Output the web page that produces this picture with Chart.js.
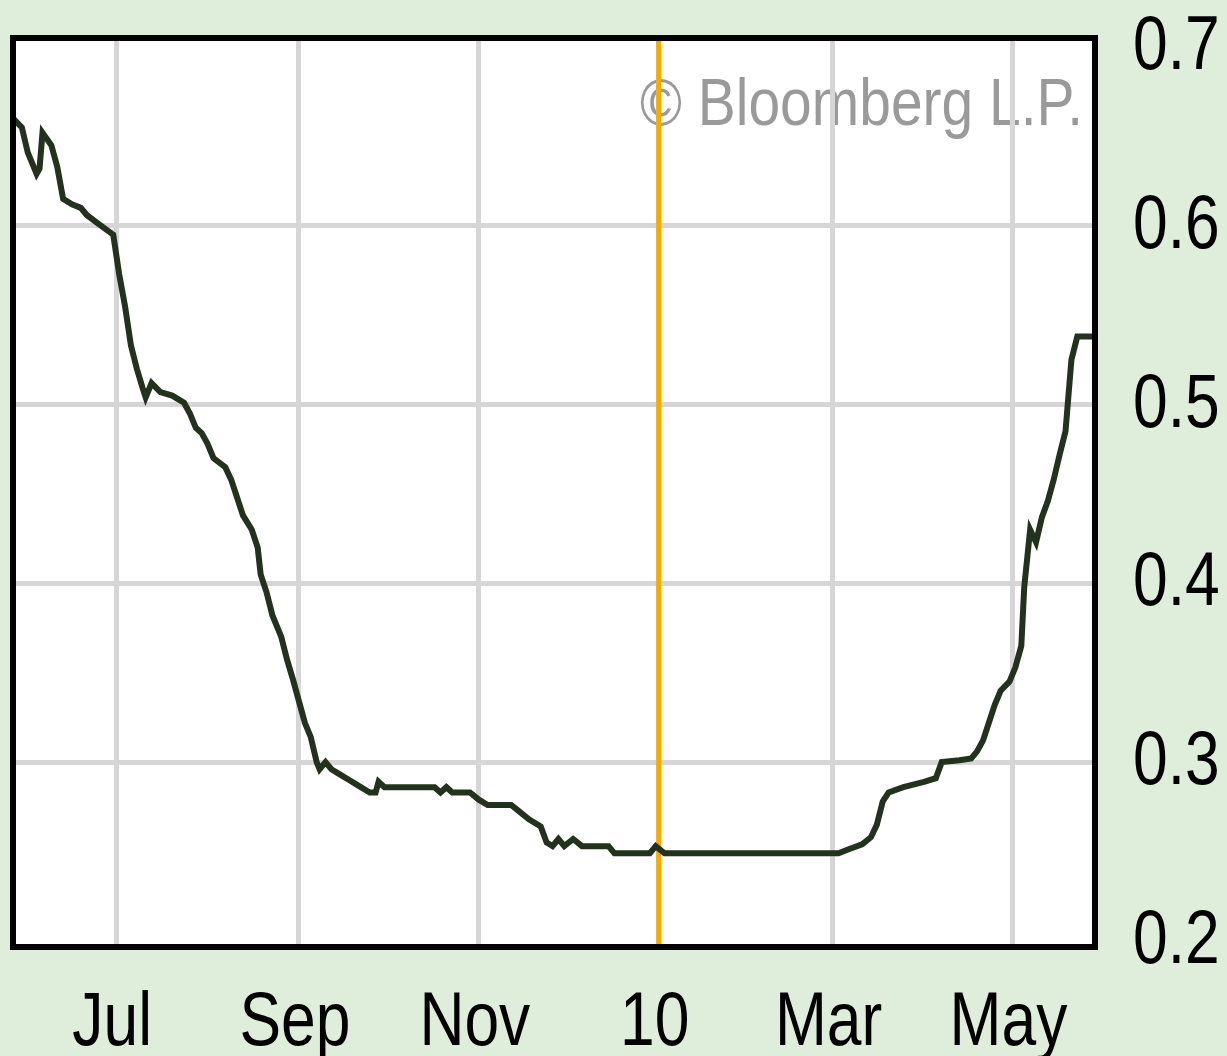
<!DOCTYPE html>
<html>
<head>
<meta charset="utf-8">
<script src="https://cdn.jsdelivr.net/npm/chart.js@4/dist/chart.umd.min.js"></script>
<style>
  html, body { margin: 0; padding: 0; background: #dfeddb; }
  #chart { display: block; }
</style>
</head>
<body>
<canvas id="chart" width="1227" height="1056"></canvas>
<script>
// Данные
const startDate = '2009-05-27';
const endDate = '2010-05-29';

const dates = [
  '2009-05-27', '2009-05-30', '2009-06-01', '2009-06-04', '2009-06-05', '2009-06-06',
  '2009-06-09', '2009-06-11', '2009-06-13', '2009-06-16', '2009-06-19', '2009-06-21',
  '2009-06-25', '2009-06-30', '2009-07-02', '2009-07-04', '2009-07-06', '2009-07-08',
  '2009-07-10', '2009-07-11', '2009-07-13', '2009-07-16', '2009-07-20', '2009-07-24',
  '2009-07-26', '2009-07-28', '2009-07-30', '2009-08-01', '2009-08-03', '2009-08-07',
  '2009-08-09', '2009-08-11', '2009-08-13', '2009-08-16', '2009-08-18', '2009-08-19',
  '2009-08-21', '2009-08-23', '2009-08-26', '2009-08-28', '2009-08-30', '2009-09-01',
  '2009-09-03', '2009-09-05', '2009-09-07', '2009-09-08', '2009-09-10', '2009-09-12',
  '2009-09-15', '2009-09-18', '2009-09-21', '2009-09-25', '2009-09-27', '2009-09-28',
  '2009-09-30', '2009-10-17', '2009-10-19', '2009-10-21', '2009-10-23', '2009-10-29',
  '2009-11-01', '2009-11-04', '2009-11-12', '2009-11-15', '2009-11-18', '2009-11-22',
  '2009-11-24', '2009-11-26', '2009-11-28', '2009-11-30', '2009-12-03', '2009-12-06',
  '2009-12-15', '2009-12-17', '2009-12-29', '2009-12-31', '2010-01-03', '2010-03-03',
  '2010-03-06', '2010-03-11', '2010-03-14', '2010-03-16', '2010-03-18', '2010-03-20',
  '2010-03-25', '2010-04-01', '2010-04-05', '2010-04-07', '2010-04-13', '2010-04-17',
  '2010-04-19', '2010-04-21', '2010-04-23', '2010-04-25', '2010-04-27', '2010-04-30',
  '2010-05-02', '2010-05-04', '2010-05-05', '2010-05-07', '2010-05-09', '2010-05-11',
  '2010-05-13', '2010-05-15', '2010-05-17', '2010-05-19', '2010-05-21', '2010-05-23',
  '2010-05-28'
];

const values = [
  0.660, 0.655, 0.641, 0.629, 0.632, 0.652,
  0.645, 0.633, 0.615, 0.612, 0.610, 0.606,
  0.601, 0.595, 0.573, 0.555, 0.533, 0.520,
  0.509, 0.504, 0.512, 0.507, 0.505, 0.501,
  0.495, 0.487, 0.484, 0.478, 0.470, 0.465,
  0.458, 0.448, 0.438, 0.430, 0.420, 0.405,
  0.395, 0.382, 0.370, 0.357, 0.346, 0.334,
  0.322, 0.314, 0.300, 0.296, 0.300, 0.296,
  0.293, 0.290, 0.287, 0.283, 0.283, 0.289,
  0.286, 0.286, 0.283, 0.286, 0.283, 0.283,
  0.279, 0.276, 0.276, 0.272, 0.268, 0.264,
  0.255, 0.253, 0.257, 0.253, 0.257, 0.253,
  0.253, 0.249, 0.249, 0.253, 0.249, 0.249,
  0.251, 0.254, 0.258, 0.265, 0.278, 0.283,
  0.286, 0.289, 0.291, 0.300, 0.301, 0.302,
  0.306, 0.312, 0.322, 0.332, 0.340, 0.345,
  0.353, 0.365, 0.398, 0.430, 0.423, 0.437,
  0.446, 0.458, 0.472, 0.485, 0.525, 0.538,
  0.538
];

// Подписи оси X
const tickDates = ['2009-07-01', '2009-09-01', '2009-11-01', '2010-01-01', '2010-03-01', '2010-05-01'];
const tickLabels = ['Jul', 'Sep', 'Nov', '10', 'Mar', 'May'];

// Подписи оси Y (крайние без линий сетки)
const yLabels = [0.2, 0.3, 0.4, 0.5, 0.6, 0.7];

// Оранжевая отметка (начало года)
const markerDate = '2010-01-01';

// у Bloomberg рамка чуть шире крайних делений
const yAxisMin = 0.1966;
const yAxisMax = 0.705;

const FONT = "'Liberation Sans', Arial, sans-serif";
const SQUEEZE = 0.82; // узкий шрифт как у Bloomberg

// день от начала окна
function dayIndex(s) {
  const [y, m, d] = s.split('-').map(Number);
  const [y0, m0, d0] = startDate.split('-').map(Number);
  return Math.round((Date.UTC(y, m - 1, d) - Date.UTC(y0, m0 - 1, d0)) / 86400000);
}

const points = dates.map((d, i) => ({ x: dayIndex(d), y: values[i] }));
const tickDays = tickDates.map(dayIndex);
const markerDay = dayIndex(markerDate);
const yEdge = [yLabels[0], yLabels[yLabels.length - 1]];

function narrowText(ctx, text, x, y, align, squeeze = SQUEEZE) {
  ctx.save();
  ctx.translate(x, y);
  ctx.scale(squeeze, 1);
  ctx.textAlign = align;
  ctx.textBaseline = 'alphabetic';
  ctx.fillText(text, 0, 0);
  ctx.restore();
}

// Белое поле и водяной знак под сеткой
const plotBackground = {
  id: 'plotBackground',
  beforeDraw(chart) {
    const { ctx, chartArea: a } = chart;
    ctx.save();
    ctx.fillStyle = '#ffffff';
    ctx.fillRect(a.left, a.top, a.right - a.left, a.bottom - a.top);
    ctx.fillStyle = '#9a9a9a';
    ctx.font = `67px ${FONT}`;
    narrowText(ctx, '\u00A9 Bloomberg L.P.', a.right - 12, a.top + 87, 'right', 0.85);
    ctx.restore();
  }
};

// Подписи осей (сжатым шрифтом) и чёрная рамка
const axisLabels = {
  id: 'axisLabels',
  afterDraw(chart) {
    const { ctx, chartArea: a, scales } = chart;
    ctx.save();
    ctx.fillStyle = '#000000';
    ctx.font = `76px ${FONT}`;
    scales.x.ticks.forEach(t => {
      const i = tickDays.indexOf(t.value);
      if (i < 0) return;
      narrowText(ctx, tickLabels[i], scales.x.getPixelForValue(t.value) - 4, scales.x.top + 98, 'center');
    });
    scales.y.ticks.forEach(t => {
      narrowText(ctx, t.value.toFixed(1), scales.y.left + 38, scales.y.getPixelForValue(t.value) + 22, 'left');
    });
    ctx.strokeStyle = '#000000';
    ctx.lineWidth = 6;
    ctx.strokeRect(a.left, a.top, a.right - a.left, a.bottom - a.top);
    ctx.restore();
  }
};

new Chart(document.getElementById('chart').getContext('2d'), {
  type: 'line',
  data: {
    datasets: [
      {
        data: points,
        borderColor: '#22321c',
        borderWidth: 6,
        pointRadius: 0,
        tension: 0,
        fill: false
      },
      {
        data: [{ x: markerDay, y: yAxisMin }, { x: markerDay, y: yAxisMax }],
        borderColor: '#f7ab00',
        borderWidth: 5,
        pointRadius: 0,
        fill: false
      }
    ]
  },
  options: {
    responsive: false,
    devicePixelRatio: 1,
    animation: false,
    layout: { padding: { left: 13, top: 38, right: 0, bottom: 0 } },
    plugins: {
      legend: { display: false },
      tooltip: { enabled: false },
      title: { display: false }
    },
    scales: {
      x: {
        type: 'linear',
        min: dayIndex(startDate),
        max: dayIndex(endDate),
        afterBuildTicks: scale => {
          scale.ticks = tickDays.map(v => ({ value: v }));
        },
        afterFit: scale => {
          scale.height = 109;
          scale.paddingLeft = 0;
          scale.paddingRight = 0;
        },
        grid: { color: '#d6d6d6', lineWidth: 5, drawTicks: false },
        border: { display: false },
        ticks: { display: false, autoSkip: false }
      },
      y: {
        position: 'right',
        min: yAxisMin,
        max: yAxisMax,
        afterBuildTicks: scale => {
          scale.ticks = yLabels.map(v => ({ value: v }));
        },
        afterFit: scale => {
          scale.width = 132;
          scale.paddingTop = 0;
          scale.paddingBottom = 0;
        },
        grid: {
          color: c => (c.tick && yEdge.includes(c.tick.value) ? 'rgba(0,0,0,0)' : '#d6d6d6'),
          lineWidth: 5,
          drawTicks: false
        },
        border: { display: false },
        ticks: { display: false }
      }
    }
  },
  plugins: [plotBackground, axisLabels]
});
</script>
</body>
</html>
